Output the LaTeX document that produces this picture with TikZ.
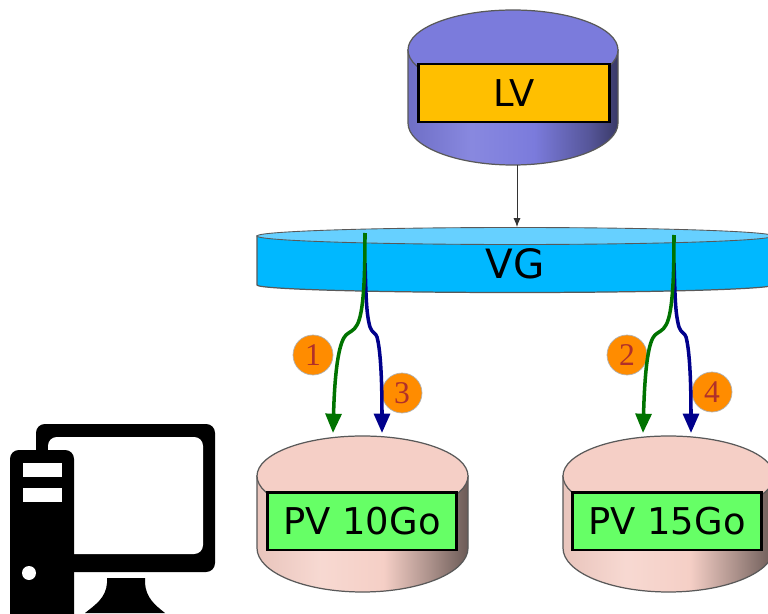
\documentclass[tikz,border=0pt]{standalone}
\usepackage{fontspec}
\usepackage{tikz}
\usepackage{xcolor}
\setmainfont{DejaVu Sans}
\newfontfamily\numfont{Liberation Serif}
\usetikzlibrary{shapes, positioning, arrows.meta}

\definecolor{lvtop}{HTML}{7B7BDC}
\definecolor{pvtop}{HTML}{F5CFC6}
\definecolor{vgside}{HTML}{00B8FF}
\definecolor{vgtop}{HTML}{66D0FF}
\definecolor{numred}{HTML}{B0302A}
\definecolor{numfill}{HTML}{FF8C00}
\pgfdeclarehorizontalshading{lvbody}{100bp}{
  color(0bp)=(lvtop!90!black); color(25bp)=(lvtop!90!black); color(40bp)=(lvtop!90!white);
  color(55bp)=(lvtop); color(68bp)=(lvtop!70!black); color(80bp)=(lvtop!30!black); color(100bp)=(lvtop!45!black)}
\pgfdeclarehorizontalshading{pvbody}{100bp}{
  color(0bp)=(pvtop!95!black); color(25bp)=(pvtop!95!black); color(40bp)=(pvtop!80!white);
  color(55bp)=(pvtop); color(66bp)=(pvtop!70!black); color(78bp)=(pvtop!35!black); color(100bp)=(pvtop!45!black)}
\tikzset{
  disk/.style={draw=black!65, line width=0.7pt},
  labelbox/.style={draw=black, line width=1.7pt, inner sep=0pt, font=\fontsize{21}{23}\selectfont},
  number/.style={circle, draw=black!30, line width=0.4pt, fill=numfill, text=numred, inner sep=0pt,
    minimum size=0.8cm, font=\numfont\fontsize{18}{20}\selectfont},
  greenarrow/.style={draw=green!45!black, line width=2pt, -{Triangle[length=11pt, width=9pt]}},
  bluearrow/.style={draw=blue!55!black, line width=2pt, -{Triangle[length=11pt, width=9pt]}}
}

\begin{document}
\begin{tikzpicture}[x=0.02cm, y=0.02cm]
        \useasboundingbox (0, 0) rectangle (768, 613);
        \clip (0, 0) rectangle (768, 613);
        \fill[white] (0, 0) rectangle (768, 613);

        \draw[disk, shading=lvbody] (408, 563) -- (408, 490) arc[start angle=180, end angle=360, x radius=105, y radius=42] -- (618, 563) -- cycle;
        \draw[disk, fill=lvtop] (513, 563) ellipse [x radius=105, y radius=40];
        \node[labelbox, fill=orange!50!yellow, minimum width=3.84cm, minimum height=1.16cm] (lv) at (514, 520) {LV};

        \draw[disk, fill=vgside] (257, 377) -- (257, 328) arc[start angle=180, end angle=360, x radius=258, y radius=7.5] -- (773, 377) -- cycle;
        \draw[disk, line width=0.5pt, fill=vgtop] (515, 377) ellipse [x radius=258, y radius=8.5];
        \node[font=\fontsize{23}{25}\selectfont] (vg) at (515, 349) {VG};

        \draw[disk, shading=pvbody] (257, 137) -- (257, 65) arc[start angle=180, end angle=360, x radius=105.5, y radius=44] -- (468, 137) -- cycle;
        \draw[disk, fill=pvtop] (362.5, 137) ellipse [x radius=105.5, y radius=40];
        \node[labelbox, fill=green!60!white, minimum width=3.8cm, minimum height=1.16cm] (pva) at (362, 92) {PV 10Go};

        \draw[disk, shading=pvbody] (563, 137) -- (563, 65) arc[start angle=180, end angle=360, x radius=105.5, y radius=44] -- (774, 137) -- cycle;
        \draw[disk, fill=pvtop] (668.5, 137) ellipse [x radius=105.5, y radius=40];
        \node[labelbox, fill=green!60!white, minimum width=3.8cm, minimum height=1.16cm] (pvb) at (667, 92) {PV 15Go};

        \node[number] (n1) at (313, 258) {1};
        \node[number] (n3) at (402, 220) {3};
        \node[number] (n2) at (627, 258) {2};
        \node[number] (n4) at (712, 221) {4};

        \coordinate (lvout) at (517, 448);
        \coordinate (vgin) at (517, 386);
        \coordinate (vga) at (365, 380);
        \coordinate (vgb) at (365, 350);
        \coordinate (vgc) at (674, 378);
        \coordinate (vgd) at (674, 350);
        \coordinate (pva1) at (333, 180);
        \coordinate (pva3) at (382, 180);
        \coordinate (pvb2) at (643, 180);
        \coordinate (pvb4) at (691, 180);

        \draw[-{Latex[length=5pt, width=4pt]}, line width=0.5pt, draw=black!80] (lvout) -- (vgin);

        \draw[bluearrow] (vgb) .. controls (366, 320) and (366, 300) .. (370, 286)
            .. controls (372, 280) and (376, 280) .. (377, 276) .. controls (380, 265) and (382, 240) .. (pva3);
        \draw[greenarrow] (vga) .. controls (365, 340) and (364, 300) .. (357, 288)
            .. controls (354, 282) and (349, 281) .. (346, 278) .. controls (340, 272) and (335, 250) .. (pva1);
        \draw[bluearrow] (vgd) .. controls (675, 320) and (675, 300) .. (679, 286)
            .. controls (681, 280) and (685, 280) .. (686, 276) .. controls (689, 265) and (691, 240) .. (pvb4);
        \draw[greenarrow] (vgc) .. controls (674, 340) and (673, 300) .. (666, 288)
            .. controls (663, 282) and (658, 281) .. (655, 278) .. controls (649, 272) and (645, 250) .. (pvb2);

        \fill[black, rounded corners=5pt] (36, 189) -- (36, 41) -- (215, 41) -- (215, 189) -- cycle;
        \fill[white, rounded corners=5pt] (48, 176) -- (48, 59) -- (203, 59) -- (203, 176) -- cycle;
        \fill[black, rounded corners=5pt] (10, 163) -- (10, -10) -- (74, -10) -- (74, 163) -- cycle;
        \fill[white] (23, 150) rectangle (62, 136);
        \fill[white] (23, 125) rectangle (62, 111);
        \fill[white] (29, 40) circle [radius=7];
        \fill[black] (107, 30) -- (107, 35) -- (145, 35) -- (145, 30)
            .. controls (146, 15) and (155, 8) .. (165, 0) -- (85, 0) .. controls (95, 8) and (106, 15) .. (107, 30) -- cycle;
    \end{tikzpicture}
\end{document}
